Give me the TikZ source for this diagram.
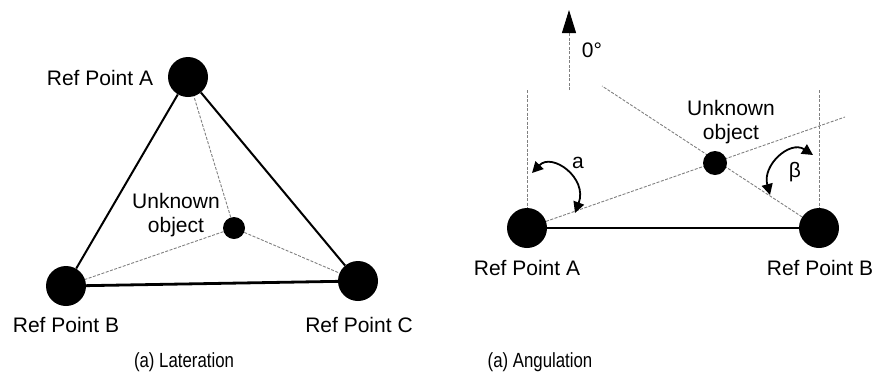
\documentclass[tikz,border=0pt]{standalone}
\usepackage{fontspec}
\setmainfont{Liberation Sans}
\newfontfamily\capfont[FakeStretch=0.82]{Liberation Sans}
\usetikzlibrary{arrows.meta}
\begin{document}
\begin{tikzpicture}[x=1pt,y=-1pt,
 refpt/.style={circle,fill=black,inner sep=0pt,minimum size=40pt},
 unk/.style={circle,fill=black,inner sep=0pt,minimum size=23pt},
 lbl/.style={font=\fontsize{21}{24}\selectfont,inner sep=0pt,align=center},
 captxt/.style={font=\capfont\fontsize{20.5}{22}\selectfont,inner sep=0pt},
 solidline/.style={line width=2pt},
 dotline/.style={gray,line width=0.9pt,dash pattern=on 3pt off 1.5pt},
 angarrow/.style={line width=1.8pt,{Triangle[length=11pt,width=11pt]}-{Triangle[length=11pt,width=11pt]}}
]
\useasboundingbox (0,0) rectangle (885,381);
% ---------- Lateration ----------
\node[refpt] (LA) at (188,77) {};
\node[refpt] (LB) at (66,286) {};
\node[refpt] (LC) at (358,281) {};
\node[unk,minimum size=22pt] (LU) at (234,228) {};
\draw[solidline] (LA) -- (LB);
\draw[solidline] (LA) -- (LC);
\draw[line width=2.8pt] (LB) -- (LC);
\draw[dotline] (LU) -- (LA);
\draw[dotline] (LU) -- (LB);
\draw[dotline] (LU) -- (LC);
\node[lbl] (tLA) at (100,78) {Ref Point A};
\node[lbl] (tLB) at (66,325) {Ref Point B};
\node[lbl] (tLC) at (359,325) {Ref Point C};
\node[lbl] (tLU) at (176,215) {Unknown\\object};
\node[captxt] (capL) at (184,362) {(a) Lateration};
% ---------- Angulation ----------
\node[refpt] (RA) at (527,228) {};
\node[refpt] (RB) at (819,228) {};
\coordinate (vA) at (527,90);
\coordinate (vB) at (819,90);
\coordinate (ea) at (845,117);
\coordinate (eb) at (602,86);
\draw[dotline] (vA) -- (RA);
\draw[dotline] (vB) -- (RB);
\draw[dotline] (RA) -- (ea);
\draw[dotline] (RB) -- (eb);
\draw[line width=2.4pt] (RA) -- (RB);
\node[unk,minimum size=24pt] (RU) at (715,163) {};
\coordinate (z0) at (569,90);
\coordinate (z1) at (569,10);
\draw[dotline,-{Triangle[length=23pt,width=14pt,black]}] (z0) -- (z1);
\node[lbl] (t0) at (592,50) {0°};
\coordinate (a0) at (532,173);
\coordinate (a1) at (575,213);
\draw[angarrow] (a0) .. controls (552,152) and (588,178) .. (a1);
\node[lbl] (ta) at (578,163) {a};
\coordinate (b0) at (813,155);
\coordinate (b1) at (770,195);
\draw[angarrow] (b0) .. controls (790,140) and (762,165) .. (b1);
\node[lbl] (tb) at (795,172) {β};
\node[lbl] (tRU) at (731,122) {Unknown\\object};
\node[lbl] (tRA) at (527,268) {Ref Point A};
\node[lbl] (tRB) at (820,268) {Ref Point B};
\node[captxt] (capR) at (540,362) {(a) Angulation};
\end{tikzpicture}
\end{document}
